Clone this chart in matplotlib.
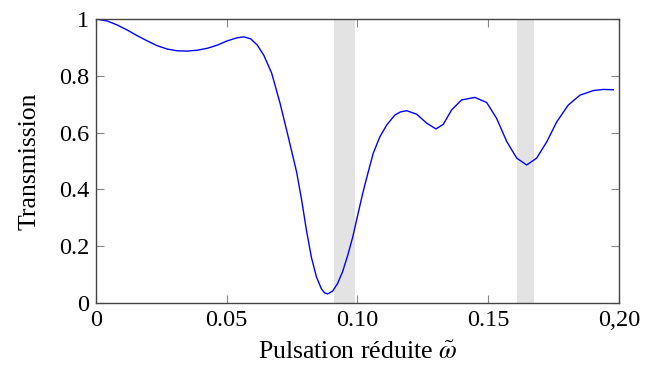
import numpy as np
import matplotlib
matplotlib.use("Agg")
import matplotlib.pyplot as plt

plt.rcParams['font.family'] = ['Liberation Serif', 'DejaVu Serif']
plt.rcParams['mathtext.fontset'] = 'stix'

# courbe de transmission
omega = [0.0000, 0.0043, 0.0081, 0.0120, 0.0158, 0.0196, 0.0234, 0.0273,
         0.0311, 0.0349, 0.0387, 0.0426, 0.0464, 0.0502, 0.0540, 0.0566,
         0.0592, 0.0617, 0.0642, 0.0672, 0.0704, 0.0735, 0.0767, 0.0786,
         0.0805, 0.0824, 0.0843, 0.0862, 0.0874, 0.0886, 0.0905, 0.0924,
         0.0943, 0.0963, 0.0982, 0.1001, 0.1020, 0.1033, 0.1060, 0.1086,
         0.1112, 0.1143, 0.1165, 0.1188, 0.1226, 0.1265, 0.1300, 0.1328,
         0.1360, 0.1398, 0.1449, 0.1494, 0.1532, 0.1571, 0.1609, 0.1647,
         0.1685, 0.1724, 0.1762, 0.1806, 0.1851, 0.1902, 0.1940, 0.1978]
trans = [1.000, 0.993, 0.979, 0.961, 0.941, 0.923, 0.906, 0.894,
         0.888, 0.887, 0.890, 0.897, 0.908, 0.923, 0.934, 0.937,
         0.930, 0.908, 0.872, 0.809, 0.703, 0.586, 0.462, 0.365,
         0.255, 0.160, 0.092, 0.050, 0.036, 0.032, 0.042, 0.069,
         0.110, 0.169, 0.233, 0.310, 0.386, 0.433, 0.527, 0.586,
         0.627, 0.662, 0.673, 0.677, 0.665, 0.633, 0.613, 0.629,
         0.680, 0.715, 0.724, 0.706, 0.650, 0.568, 0.510, 0.486,
         0.510, 0.568, 0.638, 0.697, 0.732, 0.748, 0.752, 0.751]

# bandes grises
bandes = [(0.0910, 0.0990), (0.1610, 0.1675)]

xticks = [0, 0.05, 0.10, 0.15, 0.20]
xlabels = ['0', '0.05', '0.10', '0.15', '0,20']
yticks = [0, 0.2, 0.4, 0.6, 0.8, 1]
ylabels = ['0', '0.2', '0.4', '0.6', '0.8', '1']

fig = plt.figure(figsize=(6.56, 3.74), dpi=100)
ax = fig.add_axes([0.1463, 0.1898, 0.7973, 0.7594])

for a, b in bandes:
    ax.axvspan(a, b, color='#e3e3e3', lw=0, zorder=0)
ax.plot(omega, trans, color='#0000ff', lw=1.0, zorder=2)

ax.set_xlim(0, 0.2)
ax.set_ylim(0, 1)
ax.set_xticks(xticks)
ax.set_xticklabels(xlabels)
ax.set_yticks(yticks)
ax.set_yticklabels(ylabels)
ax.tick_params(direction='in', length=6, width=0.8, color='#888888',
               top=True, right=True, labelsize=17.5, pad=5)
for s in ax.spines.values():
    s.set_color('#444444')
    s.set_linewidth(1.0)

ax.set_xlabel(r'Pulsation réduite $\tilde{\omega}$', fontsize=18.5, labelpad=8)
ax.set_ylabel('Transmission', fontsize=18.5, labelpad=13)

fig.savefig('out.png', dpi=100)
